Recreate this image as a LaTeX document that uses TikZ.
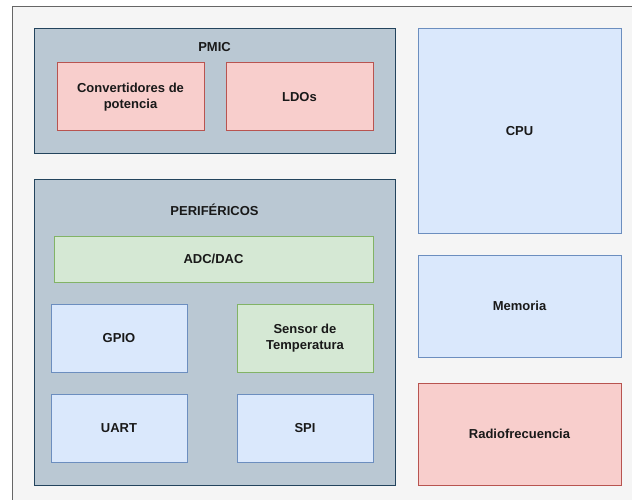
\documentclass[tikz,border=0pt]{standalone}
\usepackage{fontspec}
\setmainfont{Liberation Sans}
\definecolor{frameFill}{HTML}{F5F5F5}
\definecolor{frameLine}{HTML}{666666}
\definecolor{grpFill}{HTML}{BAC8D3}
\definecolor{grpLine}{HTML}{23445D}
\definecolor{redFill}{HTML}{F8CECC}
\definecolor{redLine}{HTML}{B85450}
\definecolor{bluFill}{HTML}{DAE8FC}
\definecolor{bluLine}{HTML}{6C8EBF}
\definecolor{grnFill}{HTML}{D5E8D4}
\definecolor{grnLine}{HTML}{82B366}
\tikzset{
  blk/.style={rectangle, line width=1pt, inner sep=0pt, align=center,
    font=\fontsize{13}{16}\selectfont\bfseries, text=black!90},
  grpbox/.style={blk, fill=grpFill, draw=grpLine},
  redbox/.style={blk, fill=redFill, draw=redLine},
  blubox/.style={blk, fill=bluFill, draw=bluLine},
  grnbox/.style={blk, fill=grnFill, draw=grnLine},
  title/.style={font=\fontsize{13}{16}\selectfont\bfseries, text=black!90, inner sep=0pt}
}
\begin{document}
\begin{tikzpicture}[x=1pt,y=-1pt]
  \useasboundingbox (0,0) rectangle (632,500);
  % outer frame, running past the right and bottom edges
  \draw[fill=frameFill, draw=frameLine, line width=1pt] (12,7) rectangle (660,530);

  % power management group
  \node[grpbox, minimum width=361pt, minimum height=125pt] (pmic) at (214.5,91.5) {};
  \node[title] (pmicT) at (214.5,47) {PMIC};
  \node[redbox, minimum width=147pt, minimum height=68pt] (conv) at (130.5,97) {Convertidores de\\potencia};
  \node[redbox, minimum width=147pt, minimum height=68pt] (ldo) at (299.5,97) {LDOs};

  % peripherals group
  \node[grpbox, minimum width=361pt, minimum height=305pt] (peri) at (214.5,332.5) {};
  \node[title] (periT) at (214.5,210) {PERIFÉRICOS};
  \node[grnbox, minimum width=319pt, minimum height=46pt] (adc) at (213.5,259) {ADC/DAC};
  \node[blubox, minimum width=136pt, minimum height=68pt] (gpio) at (119,338) {GPIO};
  \node[grnbox, minimum width=136pt, minimum height=68pt] (temp) at (305,338) {Sensor de\\Temperatura};
  \node[blubox, minimum width=136pt, minimum height=68pt] (uart) at (119,428) {UART};
  \node[blubox, minimum width=136pt, minimum height=68pt] (spi) at (305,428) {SPI};

  % right column
  \node[blubox, minimum width=203pt, minimum height=204pt] (cpu) at (519.5,131) {CPU};
  \node[blubox, minimum width=203pt, minimum height=102pt] (mem) at (519.5,306) {Memoria};
  \node[redbox, minimum width=203pt, minimum height=102pt] (rf) at (519.5,434) {Radiofrecuencia};
\end{tikzpicture}
\end{document}
